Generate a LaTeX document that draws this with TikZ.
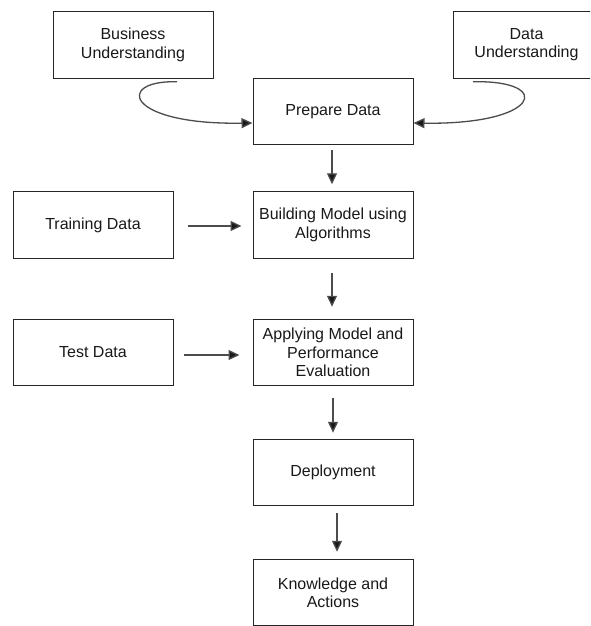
\documentclass[tikz,border=0pt]{standalone}
\usepackage{fontspec}
\setmainfont{Liberation Sans}
\usetikzlibrary{arrows.meta}
\begin{document}
\begin{tikzpicture}[x=1pt,y=1pt,
  box/.style={draw=black!85, line width=1pt, minimum width=160pt, minimum height=66.5pt,
    inner sep=0pt, align=center, font=\fontsize{16}{18.3}\selectfont, text=black!90},
  arr/.style={draw=black!70, line width=1.3pt, -{Triangle[length=11pt,width=10pt,fill=black!90]}},
]
\clip (0,0) rectangle (590,-626);
\fill[white] (0,0) rectangle (590,-626);

\node[box] (bu)  at (133,-45)    {Business\\Understanding};
\node[box, minimum width=147pt] (du) at (526.5,-45) {Data\\Understanding};
\node[box] (pd)  at (333,-111.5) {Prepare Data};
\node[box] (td)  at (93,-225)    {Training Data};
\node[box] (bm)  at (333,-225)   {Building Model using\\Algorithms};
\node[box] (ted) at (93,-352.5)  {Test Data};
\node[box] (am)  at (333,-352.5) {Applying Model and\\Performance\\Evaluation};
\node[box] (dep) at (333,-472.5) {Deployment};
\node[box] (ka)  at (333,-592.5) {Knowledge and\\Actions};

% curved inputs
\draw[arr] ([xshift=44pt,yshift=-3pt]bu.south) .. controls (115,-80) and (125,-125) .. ([yshift=-11.5pt]pd.west);
\draw[arr] ([xshift=-53.5pt,yshift=-3pt]du.south) .. controls (555,-80) and (540,-125) .. ([yshift=-11.5pt]pd.east);

% vertical flow
\draw[arr] ([xshift=-1pt,yshift=-5pt]pd.south) -- ([xshift=-1pt,yshift=7pt]bm.north);
\draw[arr] ([xshift=-1pt,yshift=-14pt]bm.south) -- ([xshift=-1pt,yshift=12pt]am.north);
\draw[arr] ([xshift=0pt,yshift=-12pt]am.south) -- ([xshift=0pt,yshift=6pt]dep.north);
\draw[arr] ([xshift=4pt,yshift=-7pt]dep.south) -- ([xshift=4pt,yshift=7pt]ka.north);

% side inputs
\draw[arr] ([xshift=14pt,yshift=-1pt]td.east) -- ([xshift=-11pt,yshift=-1pt]bm.west);
\draw[arr] ([xshift=10pt,yshift=-2.5pt]ted.east) -- ([xshift=-13pt,yshift=-2.5pt]am.west);
\end{tikzpicture}
\end{document}
